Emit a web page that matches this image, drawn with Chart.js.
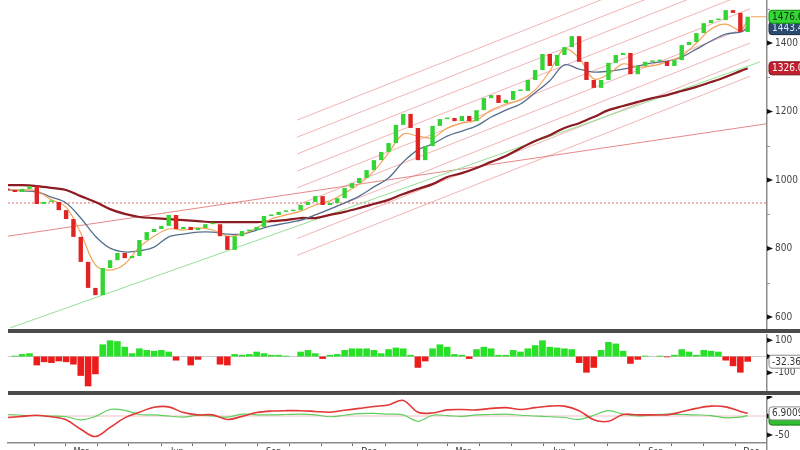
<!DOCTYPE html>
<html>
<head>
<meta charset="utf-8">
<script src="https://cdn.jsdelivr.net/npm/chart.js@4/dist/chart.umd.min.js"></script>
<style>
html, body { margin: 0; padding: 0; background: #fff; }
#wrap { position: relative; width: 800px; height: 450px; overflow: hidden; background: #fff; }
.pane { position: absolute; left: 0; width: 800px; }
.sep { position: absolute; left: 8px; width: 792px; height: 4px; background: #4b4b4b; }
</style>
</head>
<body>
<div id="wrap">
  <div class="pane" style="top:0;height:329px"><canvas id="priceChart"></canvas></div>
  <div class="sep" style="top:329px"></div>
  <div class="pane" style="top:334px;height:57px"><canvas id="histChart"></canvas></div>
  <div class="sep" style="top:391px"></div>
  <div class="pane" style="top:396px;height:54px"><canvas id="dmiChart"></canvas></div>
</div>
<script>
// x axis is in days from 1 Jan 2020
var xMin = 5.5, xMax = 729.5;
var monthTickDays = [31, 60, 91, 121, 152, 182, 213, 244, 274, 305, 335, 366,
    397, 425, 456, 486, 517, 547, 578, 609, 639, 670, 700];
var monthTickLabels = ['', 'Mar', '', '', 'Jun', '', '', 'Sep', '', '', 'Dec', '',
    '', 'Mar', '', '', 'Jun', '', '', 'Sep', '', '', 'Dec'];

// weekly closes
var firstOpen = 975;
var closes = [
    971, 965, 974, 982, 930, 936, 936, 912, 886, 834,
    761, 685, 664, 743, 766, 787, 772, 778, 825, 848,
    857, 866, 898, 857, 863, 854, 860, 871, 871, 836,
    796, 836, 851, 854, 863, 895, 898, 907, 909, 912,
    927, 936, 953, 927, 933, 947, 977, 991, 1006, 1029,
    1058, 1082, 1108, 1161, 1193, 1152, 1058, 1099, 1158, 1178,
    1181, 1172, 1187, 1172, 1204, 1239, 1248, 1225, 1234, 1260,
    1260, 1292, 1321, 1368, 1333, 1365, 1388, 1420, 1345, 1292,
    1269, 1292, 1342, 1365, 1371, 1309, 1333, 1345, 1347, 1347,
    1333, 1350, 1394, 1403, 1429, 1458, 1467, 1467, 1496, 1488,
    1432, 1476.63
];

// moving averages, every two weeks
var orangeMA = [971, 971, 968, 942, 921, 845, 752, 737, 755, 804, 836, 857, 854, 860, 854, 836,
    842, 860, 886, 898, 909, 927, 939, 962, 988, 1026, 1079, 1134, 1128, 1123, 1152, 1166,
    1175, 1204, 1222, 1234, 1263, 1318, 1383, 1356, 1295, 1309, 1339, 1330, 1333, 1345,
    1362, 1400, 1441, 1455, 1438, 1467];
var blueMA = [971, 968, 965, 950, 933, 889, 836, 801, 790, 793, 804, 834, 842, 848, 848, 842,
    842, 854, 866, 874, 883, 898, 915, 933, 953, 980, 1006, 1053, 1088, 1105, 1128, 1143,
    1158, 1184, 1204, 1222, 1255, 1290, 1336, 1324, 1315, 1318, 1324, 1333, 1342, 1347,
    1359, 1382, 1406, 1426, 1432, 1443.47];
var redMA = [985, 985, 982, 977, 971, 953, 936, 915, 901, 892, 889, 886, 883, 880, 877, 877,
    877, 877, 880, 883, 889, 889, 898, 907, 918, 930, 942, 959, 974, 988, 1009, 1020,
    1035, 1053, 1070, 1093, 1114, 1131, 1152, 1166, 1184, 1204, 1216, 1228, 1239, 1248,
    1260, 1272, 1286, 1301, 1318, 1326.08];

// drawn lines
var channelDays = [281.6, 714.2];
var channelStart = [1175, 1125, 1076, 1026, 977, 927, 877, 829, 780];
var channelEnd = [1698, 1648, 1599, 1549, 1500, 1450, 1400, 1352, 1303];
var slopeDays = [5.5, 729.5];
var slopeValues = [836, 1164];
var flatLevel = 933;
var trendDays = [7.4, 723.8];
var trendValues = [568, 1345];

// lower panes
var histValues = [
    0, 5, 15, 20, -55, -35, -40, -30, -35, -50,
    -120, -185, -110, 75, 100, 95, 60, 20, 50, 40,
    35, 40, 30, -25, 0, -55, -20, 0, 0, -50,
    -55, 15, 10, 15, 30, 20, 10, 10, 5, 0,
    30, 40, 20, -15, 10, 15, 40, 50, 50, 50,
    40, 20, 45, 55, 50, 10, -70, -30, 50, 75,
    60, 15, 10, -15, 45, 60, 50, 10, 10, 40,
    30, 50, 70, 100, 60, 55, 50, 45, -40, -100,
    -70, 40, 90, 80, 35, -45, -20, 5, 0, 5,
    -5, 10, 45, 30, 10, 40, 35, 30, -25, -60,
    -100, -32.366
];
var dmiRed = [-4, -1, 2, -2, -10, -35, -54, -30, -5, 10, 23, 24, 9, 3, 3, -9, -1, 9, 13, 14,
    14, 12, 10, 15, 20, 25, 29, 41, 10, 8, 16, 17, 16, 20, 22, 17, 22, 26, 26, 14,
    -10, -14, 4, 3, 3, 3, 11, 20, 26, 24, 12, 6.9009];
var dmiGreen = [4, 2, 1, 0, -2, -10, -1, 17, 15, 4, 3, 0, -3, 2, 0, -3, 5, 3, 3, 4,
    5, 3, -2, 2, 6, 7, 5, 3, -14, 2, 1, -1, 3, 4, 5, 2, 0, -2, -4, -9,
    2, 14, 5, 0, 3, 5, 4, 3, 1, -5, -3, 1];

var mainTicks = [600, 800, 1000, 1200, 1400];
var mainMinor = [700, 900, 1100, 1300, 1500];
var histTicks = [100, 0, -100];
var histLabels = [100, -100];
var dmiTicks = [50, 0, -50];
var dmiLabels = [-50];

// positions of the weekly and two-weekly samples
var weekDays = closes.map(function (_, i) { return 5 + 7 * i; });
var maDays = orangeMA.map(function (_, k) { return k < 51 ? 5 + 14 * k : 5 + 7 * 101; });
var opens = [firstOpen].concat(closes.slice(0, -1));

function pts(days, vals) {
    return vals.map(function (v, i) { return { x: days[i], y: v }; });
}
function last(arr) { return arr[arr.length - 1]; }

var axisFont = '10px "Liberation Sans Narrow", "DejaVu Sans Condensed", sans-serif';

// right hand value axis, drawn on the library's own y scale
function rightAxis(o) {
    return {
        id: 'rightAxis',
        afterDraw: function (chart) {
            var ctx = chart.ctx, a = chart.chartArea, ys = chart.scales.y, r = a.right;
            ctx.save();
            if (o.lastLine) {
                var lp = ys.getPixelForValue(o.lastLine.value);
                ctx.strokeStyle = o.lastLine.color; ctx.lineWidth = 1;
                ctx.beginPath();
                ctx.moveTo(chart.scales.x.getPixelForValue(o.lastLine.day) + 3, lp);
                ctx.lineTo(r, lp); ctx.stroke();
            }
            ctx.strokeStyle = '#8c8c8c'; ctx.lineWidth = 1.5;
            ctx.beginPath(); ctx.moveTo(r + 0.75, 0); ctx.lineTo(r + 0.75, chart.height); ctx.stroke();
            ctx.strokeStyle = '#999'; ctx.lineWidth = 1;
            (o.minor || []).forEach(function (v) {
                var p = Math.round(ys.getPixelForValue(v)) + 0.5;
                ctx.beginPath(); ctx.moveTo(r + 1, p); ctx.lineTo(r + 4, p); ctx.stroke();
            });
            ctx.fillStyle = '#111';
            o.ticks.forEach(function (v) {
                var p = ys.getPixelForValue(v);
                ctx.beginPath(); ctx.moveTo(r + 1, p - 2.5); ctx.lineTo(r + 7, p); ctx.lineTo(r + 1, p + 2.5);
                ctx.closePath(); ctx.fill();
            });
            ctx.font = axisFont; ctx.textBaseline = 'middle'; ctx.fillStyle = '#444';
            o.labels.forEach(function (v) { ctx.fillText(String(v), r + 9, ys.getPixelForValue(v)); });
            (o.boxes || []).forEach(function (b) {
                var p = ys.getPixelForValue(b.value) + (b.shift || 0);
                ctx.beginPath(); ctx.roundRect(r + 3, p - 6.5, 46, 13, 3);
                ctx.fillStyle = b.fill; ctx.fill();
                ctx.lineWidth = 1; ctx.strokeStyle = b.stroke; ctx.stroke();
                ctx.fillStyle = b.color; ctx.fillText(b.text, r + 6, p + 0.5);
            });
            ctx.restore();
        }
    };
}

function hiddenX() {
    return { type: 'linear', min: xMin, max: xMax, display: false, offset: false, grid: { offset: false } };
}
function flatLine(v, color, width, dash) {
    return { type: 'line', data: [{ x: xMin, y: v }, { x: xMax, y: v }], borderColor: color,
        borderWidth: width, borderDash: dash || [], pointRadius: 0, order: 9 };
}
var baseOpts = { responsive: true, maintainAspectRatio: false, animation: false, events: [] };
var noLegend = { legend: { display: false }, tooltip: { enabled: false } };
var pad = { left: 8, right: 34, top: 0, bottom: 0 };

// ---- price pane ----
var priceSets = [{
    type: 'bar',
    data: closes.map(function (c, i) { return { x: weekDays[i], y: [opens[i], c] }; }),
    backgroundColor: closes.map(function (c, i) { return c >= opens[i] ? '#35d435' : '#e02424'; }),
    borderWidth: 0, barPercentage: 0.6, categoryPercentage: 1, minBarLength: 1.5,
    grouped: false, order: 0
}, {
    type: 'line', data: pts(maDays, orangeMA), borderColor: '#f2a35a', borderWidth: 1.2,
    pointRadius: 0, tension: 0.35, order: 1
}, {
    type: 'line', data: pts(maDays, blueMA), borderColor: '#56708e', borderWidth: 1.3,
    pointRadius: 0, tension: 0.35, order: 2
}, {
    type: 'line', data: pts(maDays, redMA), borderColor: '#8c1c22', borderWidth: 2.2,
    pointRadius: 0, tension: 0.35, order: 3
}, {
    type: 'line', data: pts(trendDays, trendValues), borderColor: '#95df95', borderWidth: 1,
    pointRadius: 0, order: 5
}, {
    type: 'line', data: pts(slopeDays, slopeValues), borderColor: 'rgba(222,100,100,0.85)',
    borderWidth: 0.9, pointRadius: 0, order: 6
}, flatLine(flatLevel, '#e06a6a', 1, [2, 2])];
channelStart.forEach(function (s, i) {
    priceSets.push({
        type: 'line', data: pts(channelDays, [s, channelEnd[i]]),
        borderColor: 'rgba(232,130,130,0.75)', borderWidth: 0.8, pointRadius: 0, order: 7
    });
});

new Chart(document.getElementById('priceChart').getContext('2d'), {
    type: 'bar',
    data: { datasets: priceSets },
    options: Object.assign({}, baseOpts, {
        layout: { padding: pad },
        scales: { x: hiddenX(), y: { type: 'linear', min: 565, max: 1525.6, display: false } },
        plugins: noLegend
    }),
    plugins: [rightAxis({
        ticks: mainTicks, labels: mainTicks, minor: mainMinor,
        lastLine: { day: last(weekDays), value: last(closes), color: '#f2a35a' },
        boxes: [
            { value: last(blueMA), text: last(blueMA).toFixed(2), fill: '#2b4a6f', stroke: '#1a2c44', color: '#dfe6ef' },
            { value: last(closes), text: last(closes).toFixed(2), fill: '#33d633', stroke: '#138a13', color: '#0f3010' },
            { value: last(redMA), text: last(redMA).toFixed(2), fill: '#c2202f', stroke: '#7a1018', color: '#ffffff' }
        ]
    })]
});

// ---- histogram pane ----
new Chart(document.getElementById('histChart').getContext('2d'), {
    type: 'bar',
    data: {
        datasets: [{
            data: histValues.map(function (v, i) { return { x: weekDays[i], y: v }; }),
            backgroundColor: histValues.map(function (v) { return v >= 0 ? '#27e027' : '#ec1c1c'; }),
            borderWidth: 0, barPercentage: 0.9, categoryPercentage: 1, order: 0
        }, flatLine(0, '#bdbdbd', 0.8)]
    },
    options: Object.assign({}, baseOpts, {
        layout: { padding: pad },
        scales: { x: hiddenX(), y: { type: 'linear', min: -213.9, max: 139.5, display: false } },
        plugins: noLegend
    }),
    plugins: [rightAxis({
        ticks: histTicks, labels: histLabels,
        boxes: [{ value: last(histValues), text: last(histValues).toFixed(3), fill: '#ffffff', stroke: '#8a8a8a', color: '#333' }]
    })]
});

// ---- bottom pane ----
new Chart(document.getElementById('dmiChart').getContext('2d'), {
    type: 'line',
    data: {
        datasets: [{
            data: pts(maDays, dmiRed), borderColor: '#e23838', borderWidth: 1.6,
            pointRadius: 0, tension: 0.35, order: 0
        }, {
            data: pts(maDays, dmiGreen), borderColor: '#5fcf5f', borderWidth: 1.2,
            pointRadius: 0, tension: 0.35, order: 1
        }, flatLine(0, '#efb0b0', 0.8)]
    },
    options: Object.assign({}, baseOpts, {
        layout: { padding: pad },
        scales: {
            x: {
                type: 'linear', min: xMin, max: xMax, offset: false,
                afterBuildTicks: function (scale) {
                    scale.ticks = monthTickDays.map(function (d) { return { value: d }; });
                },
                afterFit: function (scale) { scale.height = 7; },
                ticks: {
                    autoSkip: false, maxRotation: 0, padding: 0, labelOffset: 16,
                    color: '#333', font: { family: '"Liberation Sans Narrow", "DejaVu Sans Condensed", sans-serif', size: 9 },
                    callback: function (v, i) { return monthTickLabels[i]; }
                },
                grid: { drawOnChartArea: false, drawTicks: true, tickLength: 3, color: '#666', offset: false },
                border: { display: true, color: '#8c8c8c', width: 1.5 }
            },
            y: { type: 'linear', min: -71, max: 52.6, display: false }
        },
        plugins: noLegend
    }),
    plugins: [rightAxis({
        ticks: dmiTicks, labels: dmiLabels,
        boxes: [
            { value: last(dmiGreen), shift: 3, text: '', fill: '#2fbf2f', stroke: '#177a17', color: '#fff' },
            { value: last(dmiRed), text: last(dmiRed).toFixed(4), fill: '#ffffff', stroke: '#8a8a8a', color: '#333' }
        ]
    })]
});
</script>
</body>
</html>
